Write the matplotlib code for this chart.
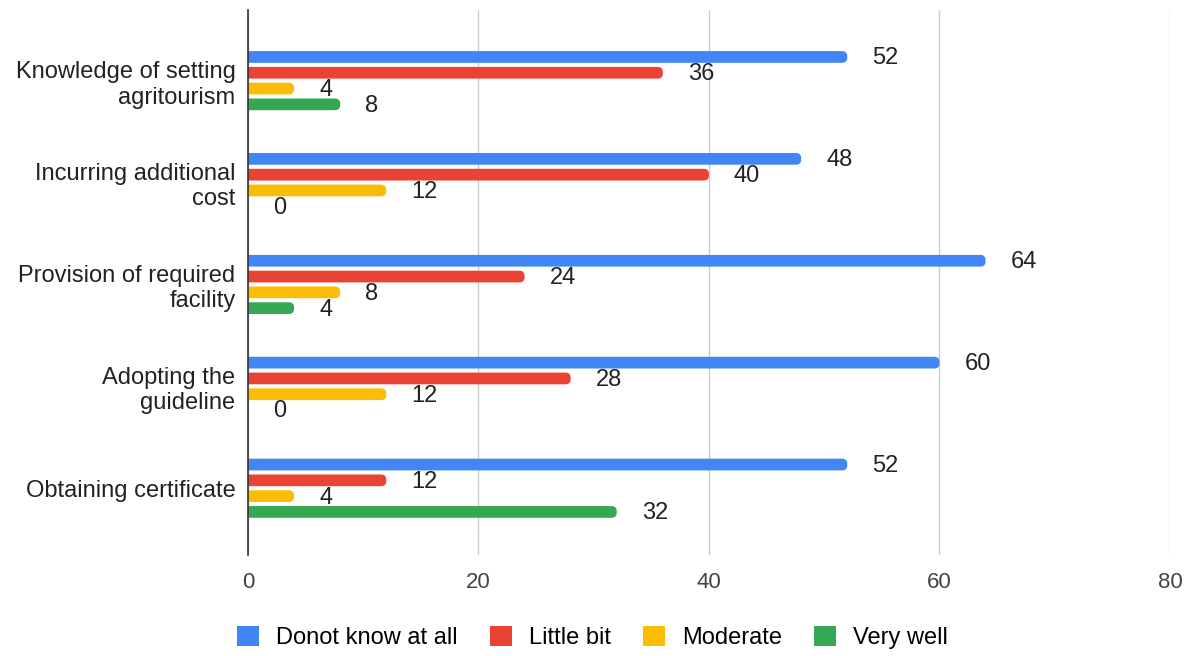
import numpy as np
import matplotlib
matplotlib.use("Agg")
import matplotlib.pyplot as plt
from matplotlib.patches import FancyBboxPatch, Patch

plt.rcParams["font.family"] = ["Liberation Sans", "DejaVu Sans"]

# ---------------------------------------------------------------------------
# Data
# ---------------------------------------------------------------------------

categories = [
    "Knowledge of setting\nagritourism",
    "Incurring additional\ncost",
    "Provision of required\nfacility",
    "Adopting the\nguideline",
    "Obtaining certificate",
]
series_names = ["Donot know at all", "Little bit", "Moderate", "Very well"]
dont_know = [52, 48, 64, 60, 52]
little_bit = [36, 40, 24, 28, 12]
moderate = [4, 12, 8, 12, 4]
very_well = [8, 0, 4, 0, 32]
x_ticks = [0, 20, 40, 60, 80]

colors = ["#4285F4", "#EA4335", "#FBBC04", "#34A853"]

# ---------------------------------------------------------------------------
# Plot
# ---------------------------------------------------------------------------

fig = plt.figure(figsize=(11.99, 6.56), dpi=100)
ax = fig.add_axes([0.2068, 0.154, 0.769, 0.831])

y = np.arange(len(categories))
step = 0.155
height = 0.115
all_series = [dont_know, little_bit, moderate, very_well]

y_lo, y_hi = -0.695, 4.655
ax.set_xlim(0, 80)
ax.set_ylim(y_hi, y_lo)

# rounding radius in x data units and y/x aspect in data units (px per unit)
radius = 0.45
x_px = 0.769 * 1199 / 80
y_px = 0.831 * 656 / (y_hi - y_lo)
aspect = x_px / y_px

handles = []
for i, (name, vals, col) in enumerate(zip(series_names, all_series, colors)):
    pos = y + (i - 1.5) * step
    bars = ax.barh(pos, vals, height=height, color=col, zorder=3)
    # swap the rectangles for rounded ones (left end hidden behind the axis)
    for rect in bars.patches:
        w = rect.get_width()
        rect.set_visible(False)
        if w <= 0:
            continue
        x0, y0 = rect.get_xy()
        fb = FancyBboxPatch((x0 - radius, y0), w + radius, rect.get_height(),
                            boxstyle=f"round,pad=0,rounding_size={radius}",
                            mutation_aspect=aspect, facecolor=col,
                            edgecolor="none", zorder=3)
        ax.add_patch(fb)
    for p, v in zip(pos, vals):
        ax.annotate(str(v), (v, p), xytext=(18, -1), textcoords="offset points",
                    ha="left", va="center", fontsize=17, color="#222222")
    handles.append(Patch(facecolor=col, edgecolor="none", label=name))

ax.set_xticks(x_ticks)
ax.set_yticks(y)
ax.set_yticklabels(categories, fontsize=17, color="#222222")
ax.tick_params(axis="x", labelsize=16, colors="#444444", length=0, pad=12)
ax.tick_params(axis="y", length=0, pad=9)

ax.grid(axis="x", color="#cccccc", linewidth=1, zorder=0)
for s in ["top", "right", "bottom"]:
    ax.spines[s].set_visible(False)
ax.spines["left"].set_color("#333333")
ax.spines["left"].set_linewidth(1.2)
ax.spines["left"].set_zorder(4)

fig.legend(handles=handles, loc="lower center", bbox_to_anchor=(0.494, -0.022),
           ncol=4, frameon=False, fontsize=17, handlelength=0.93,
           handleheight=0.93, columnspacing=1.36, handletextpad=0.72)

fig.savefig("out.png", dpi=100)
